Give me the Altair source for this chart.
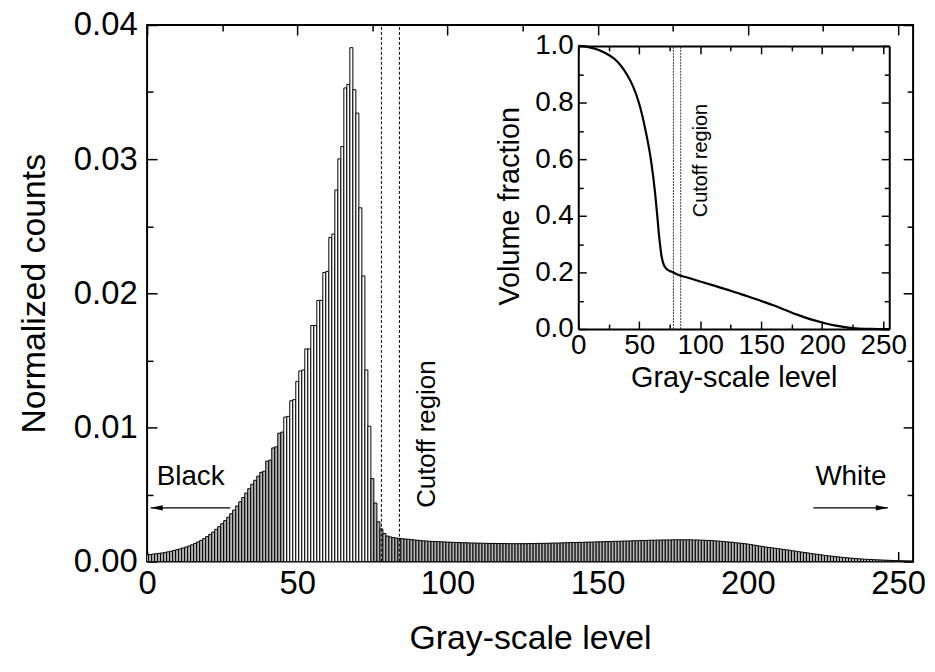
import altair as alt
import pandas as pd

FONT = "Liberation Sans"

# ---------------- data ----------------
levels = list(range(255))
counts = [
    0.00050, 0.00052, 0.00055, 0.00058, 0.00061, 0.00064, 0.00068, 0.00072, 0.00077, 0.00082,
    0.00088, 0.00094, 0.00101, 0.00108, 0.00116, 0.00125, 0.00135, 0.00146, 0.00158, 0.00171,
    0.00186, 0.00202, 0.00220, 0.00240, 0.00260, 0.00282, 0.00305, 0.00330, 0.00356, 0.00384,
    0.00414, 0.00445, 0.00477, 0.00510, 0.00543, 0.00576, 0.00606, 0.00636, 0.00665, 0.00673,
    0.00749, 0.00756, 0.00847, 0.00855, 0.00957, 0.00965, 0.01077, 0.01082, 0.01199, 0.01207,
    0.01343, 0.01421, 0.01428, 0.01585, 0.01585, 0.01760, 0.01760, 0.01947, 0.01947, 0.02155,
    0.02163, 0.02416, 0.02442, 0.02770, 0.03002, 0.03094, 0.03531, 0.03557, 0.03831, 0.03518,
    0.03343, 0.02637, 0.02129, 0.01428, 0.01009, 0.00618, 0.00436, 0.00296, 0.00243, 0.00209,
    0.00190, 0.00183, 0.00178, 0.00175, 0.00172, 0.00170, 0.00168, 0.00166, 0.00163, 0.00161,
    0.00159, 0.00156, 0.00154, 0.00153, 0.00151, 0.00150, 0.00149, 0.00148, 0.00147, 0.00146,
    0.00145, 0.00144, 0.00143, 0.00142, 0.00141, 0.00140, 0.00140, 0.00139, 0.00138, 0.00138,
    0.00137, 0.00137, 0.00136, 0.00136, 0.00135, 0.00135, 0.00135, 0.00134, 0.00134, 0.00134,
    0.00133, 0.00133, 0.00133, 0.00133, 0.00133, 0.00133, 0.00133, 0.00134, 0.00134, 0.00134,
    0.00135, 0.00135, 0.00136, 0.00136, 0.00137, 0.00137, 0.00138, 0.00138, 0.00139, 0.00140,
    0.00140, 0.00141, 0.00142, 0.00142, 0.00143, 0.00143, 0.00144, 0.00145, 0.00145, 0.00146,
    0.00147, 0.00147, 0.00148, 0.00149, 0.00149, 0.00150, 0.00151, 0.00151, 0.00152, 0.00153,
    0.00153, 0.00154, 0.00155, 0.00155, 0.00156, 0.00157, 0.00157, 0.00158, 0.00159, 0.00159,
    0.00160, 0.00160, 0.00161, 0.00161, 0.00161, 0.00162, 0.00162, 0.00162, 0.00162, 0.00162,
    0.00162, 0.00162, 0.00161, 0.00161, 0.00160, 0.00159, 0.00158, 0.00157, 0.00156, 0.00154,
    0.00153, 0.00151, 0.00149, 0.00147, 0.00145, 0.00143, 0.00140, 0.00138, 0.00135, 0.00133,
    0.00130, 0.00126, 0.00123, 0.00119, 0.00115, 0.00112, 0.00108, 0.00105, 0.00102, 0.00099,
    0.00096, 0.00093, 0.00090, 0.00087, 0.00084, 0.00080, 0.00077, 0.00073, 0.00070, 0.00067,
    0.00064, 0.00060, 0.00057, 0.00054, 0.00051, 0.00048, 0.00045, 0.00042, 0.00040, 0.00037,
    0.00035, 0.00032, 0.00030, 0.00028, 0.00026, 0.00024, 0.00022, 0.00020, 0.00019, 0.00017,
    0.00016, 0.00015, 0.00014, 0.00013, 0.00012, 0.00011, 0.00010, 0.00009, 0.00008, 0.00007,
    0.00006, 0.00005, 0.00004, 0.00003, 0.00002,
]

inset_levels = [0, 5, 10, 15, 20, 25, 30, 35, 40, 45, 50, 55, 60, 63, 65, 66, 67, 68, 69, 70,
                72, 75, 78, 80, 90, 100, 110, 120, 130, 140, 150, 160, 170, 180, 190, 200,
                210, 220, 230, 240, 250, 255]
inset_fraction = [1.000, 0.998, 0.994, 0.988, 0.979, 0.968, 0.953, 0.930, 0.898, 0.856,
                  0.795, 0.705, 0.585, 0.480, 0.390, 0.340, 0.300, 0.265, 0.243, 0.228,
                  0.214, 0.205, 0.200, 0.195, 0.181, 0.168, 0.155, 0.142, 0.128, 0.114,
                  0.099, 0.084, 0.067, 0.050, 0.035, 0.023, 0.013, 0.006, 0.002, 0.0004,
                  0.0, 0.0]

cutoff_levels = [78, 84]

main_x_major = [0, 50, 100, 150, 200, 250]
main_x_minor = [25, 75, 125, 175, 225]
main_y_major = [0.0, 0.01, 0.02, 0.03, 0.04]
main_y_minor = [0.005, 0.015, 0.025, 0.035]
inset_x_major = [0, 50, 100, 150, 200, 250]
inset_x_minor = [25, 75, 125, 175, 225]
inset_y_major = [0.0, 0.2, 0.4, 0.6, 0.8, 1.0]
inset_y_minor = [0.1, 0.3, 0.5, 0.7, 0.9]

# annotations (data units)
side_labels = ["Black", "White"]
side_label_x = [14.5, 234.3]
side_label_y = [0.0063, 0.0063]
arrow_start = [27.7, 221.8]
arrow_tip = [1.2, 246.6]
arrow_y = [0.0040, 0.0040]
main_note_x = [93.3]
main_note_y = [0.0040]
inset_note_x = [100.4]
inset_note_y = [0.395]

# ---------------- geometry ----------------
W, H = 771, 540
IX0, IX1 = 434, 747   # inset horizontal pixel range inside main plot
IY0, IY1 = 306, 21    # inset vertical pixel range (bottom, top)

hist_df = pd.DataFrame({"level": levels, "count": counts})
hist_df["left"] = hist_df["level"] - 0.5
hist_df["right"] = hist_df["level"] + 0.5
inset_df = pd.DataFrame({"level": inset_levels, "frac": inset_fraction})
cut_df = pd.DataFrame({"level": cutoff_levels})


def mx():
    return alt.Scale(domain=[0, 255], nice=False, zero=False)


def my():
    return alt.Scale(domain=[0, 0.04], nice=False, zero=False)


def ix():
    return alt.Scale(domain=[0, 255], range=[IX0, IX1], nice=False, zero=False)


def iy():
    return alt.Scale(domain=[0, 1], range=[IY0, IY1], nice=False, zero=False)


def tick_axis(orient, values, size, offset, domain=False):
    return alt.Axis(orient=orient, values=values, tickSize=size, offset=offset,
                    labels=False, title=None, domain=domain, ticks=True,
                    tickColor="black", tickWidth=1.5, grid=False,
                    domainColor="black", domainWidth=2)


layers = []

# main histogram with label axes
bars = alt.Chart(hist_df).mark_rect(stroke="black", strokeWidth=1, clip=True).encode(
    x=alt.X("left:Q", scale=mx(),
            axis=alt.Axis(orient="bottom", values=main_x_major, format="d", ticks=False,
                          tickSize=0, domain=False, grid=False, labelFontSize=33,
                          labelPadding=6, labelFlush=False, labelOverlap=False,
                          title="Gray-scale level", titleFontSize=34, titlePadding=22)),
    x2="right:Q",
    y=alt.Y("count:Q", scale=my(),
            axis=alt.Axis(orient="left", values=main_y_major, format=".2f", ticks=False,
                          tickSize=0, domain=False, grid=False, labelFontSize=33,
                          labelPadding=10, labelFlush=False, labelOverlap=False,
                          title="Normalized counts", titleFontSize=34, titlePadding=22)),
    y2=alt.Y2Datum(0),
    fill=alt.condition(alt.datum.count < 0.0100, alt.value("#b4b4b4"), alt.value("white")),
)
layers.append(bars)


def main_axis_layer(xa, ya):
    return alt.Chart(hist_df).mark_point(opacity=0).encode(
        x=alt.X("level:Q", scale=mx(), axis=xa),
        y=alt.Y("count:Q", scale=my(), axis=ya),
    )


layers.append(main_axis_layer(tick_axis("top", main_x_major, 10, -H),
                              tick_axis("right", main_y_major, 10, -W)))
layers.append(main_axis_layer(tick_axis("top", main_x_minor, 6, -H),
                              tick_axis("right", main_y_minor, 6, -W)))
layers.append(main_axis_layer(tick_axis("bottom", main_x_major, 10, -H),
                              tick_axis("left", main_y_major, 10, -W)))
layers.append(main_axis_layer(tick_axis("bottom", main_x_minor, 6, -H),
                              tick_axis("left", main_y_minor, 6, -W)))

# cutoff dashed lines in main plot
layers.append(alt.Chart(cut_df).mark_rule(color="black", strokeWidth=1, strokeDash=[3, 2]).encode(
    x=alt.X("level:Q", scale=mx(), axis=None),
    y=alt.YDatum(0, scale=my(), axis=None),
    y2=alt.Y2Datum(0.04),
))

# annotations in main plot
side_df = pd.DataFrame({"x": side_label_x, "y": side_label_y, "t": side_labels})
layers.append(alt.Chart(side_df).mark_text(font=FONT, fontSize=28, color="black",
                                           align="center", baseline="middle").encode(
    x=alt.X("x:Q", scale=mx(), axis=None),
    y=alt.Y("y:Q", scale=my(), axis=None),
    text="t:N",
))
arrow_df = pd.DataFrame({"x": arrow_start, "x2": arrow_tip, "y": arrow_y})
layers.append(alt.Chart(arrow_df).mark_rule(color="black", strokeWidth=1.5).encode(
    x=alt.X("x:Q", scale=mx(), axis=None),
    x2="x2:Q",
    y=alt.Y("y:Q", scale=my(), axis=None),
))
head_left = pd.DataFrame({"x": [arrow_tip[0]], "y": [arrow_y[0]]})
head_right = pd.DataFrame({"x": [arrow_tip[1]], "y": [arrow_y[1]]})
layers.append(alt.Chart(head_left).mark_point(shape="M -1 0 L 1 -0.45 L 1 0.45 Z", filled=True,
                                              color="black", size=150, opacity=1, xOffset=6).encode(
    x=alt.X("x:Q", scale=mx(), axis=None),
    y=alt.Y("y:Q", scale=my(), axis=None),
))
layers.append(alt.Chart(head_right).mark_point(shape="M 1 0 L -1 -0.45 L -1 0.45 Z", filled=True,
                                               color="black", size=150, opacity=1, xOffset=-6).encode(
    x=alt.X("x:Q", scale=mx(), axis=None),
    y=alt.Y("y:Q", scale=my(), axis=None),
))
main_note = pd.DataFrame({"x": main_note_x, "y": main_note_y, "t": ["Cutoff region"]})
layers.append(alt.Chart(main_note).mark_text(font=FONT, fontSize=26, color="black", angle=270,
                                             align="left", baseline="middle").encode(
    x=alt.X("x:Q", scale=mx(), axis=None),
    y=alt.Y("y:Q", scale=my(), axis=None),
    text="t:N",
))

# ---------------- inset ----------------
inset_curve = alt.Chart(inset_df).mark_line(color="black", strokeWidth=2.2, interpolate="monotone").encode(
    x=alt.X("level:Q", scale=ix(),
            axis=alt.Axis(orient="bottom", offset=IY0 - H, values=inset_x_major, format="d",
                          ticks=False, tickSize=0, domain=False, grid=False, labelFontSize=28,
                          labelPadding=3, labelFlush=False, labelOverlap=False,
                          title="Gray-scale level", titleFontSize=29, titlePadding=4)),
    y=alt.Y("frac:Q", scale=iy(),
            axis=alt.Axis(orient="left", offset=-IX0, values=inset_y_major, format=".1f",
                          ticks=False, tickSize=0, domain=False, grid=False, labelFontSize=28,
                          labelPadding=5, labelFlush=False, labelOverlap=False,
                          title="Volume fraction", titleFontSize=29, titlePadding=10,
                          titleY=182)),
)
layers.append(inset_curve)


def inset_axis_layer(xa, ya):
    return alt.Chart(inset_df).mark_point(opacity=0).encode(
        x=alt.X("level:Q", scale=ix(), axis=xa),
        y=alt.Y("frac:Q", scale=iy(), axis=ya),
    )


# bottom edge (ticks up) and left edge (ticks right), with frame lines
layers.append(inset_axis_layer(tick_axis("top", inset_x_major, 8, -IY0, domain=True),
                               tick_axis("right", inset_y_major, 8, IX0 - W, domain=True)))
layers.append(inset_axis_layer(tick_axis("top", inset_x_minor, 5, -IY0),
                               tick_axis("right", inset_y_minor, 5, IX0 - W)))
# top edge (ticks down) and right edge (ticks left)
layers.append(inset_axis_layer(tick_axis("bottom", inset_x_major, 8, IY1 - H, domain=True),
                               tick_axis("left", inset_y_major, 8, -IX1, domain=True)))
layers.append(inset_axis_layer(tick_axis("bottom", inset_x_minor, 5, IY1 - H),
                               tick_axis("left", inset_y_minor, 5, -IX1)))

layers.append(alt.Chart(cut_df).mark_rule(color="black", strokeWidth=0.8, strokeDash=[2, 1]).encode(
    x=alt.X("level:Q", scale=ix(), axis=None),
    y=alt.YDatum(0, scale=iy(), axis=None),
    y2=alt.Y2Datum(1),
))
inset_note = pd.DataFrame({"x": inset_note_x, "y": inset_note_y, "t": ["Cutoff region"]})
layers.append(alt.Chart(inset_note).mark_text(font=FONT, fontSize=20, color="black", angle=270,
                                              align="left", baseline="middle").encode(
    x=alt.X("x:Q", scale=ix(), axis=None),
    y=alt.Y("y:Q", scale=iy(), axis=None),
    text="t:N",
))

chart = alt.layer(*layers).resolve_scale(x="independent", y="independent").properties(
    width=W, height=H,
    padding={"left": 140, "top": 15, "right": 14, "bottom": 100},
    autosize=alt.AutoSizeParams(type="none"),
).configure_view(stroke="black", strokeWidth=2).configure_axis(
    labelFont=FONT, titleFont=FONT, labelColor="black", titleColor="black",
    titleFontWeight="normal",
)

chart.save("out.html", embed_options={"renderer": "svg", "actions": False})
